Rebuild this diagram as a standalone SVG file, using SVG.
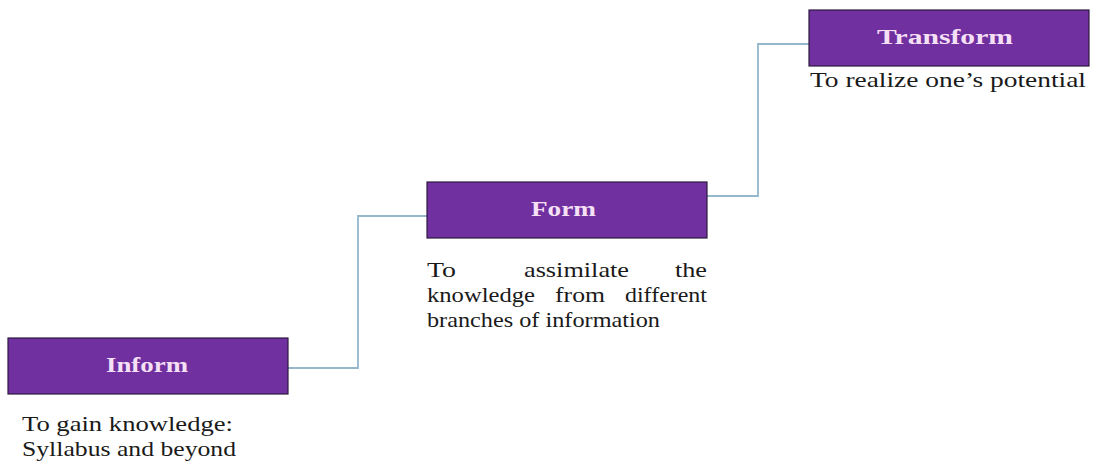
<svg xmlns="http://www.w3.org/2000/svg" width="1100" height="471" viewBox="0 0 1100 471">
<style>
.box{fill:#7030a0;stroke:#2e1a3f;stroke-width:1.2}
.title{font-family:"Liberation Serif","Times New Roman",serif;font-weight:bold;font-size:20px;fill:#f6e0f6;text-anchor:start}
.body{font-family:"Liberation Serif","Times New Roman",serif;font-size:21px;fill:#1a1a1a}
.conn{fill:none;stroke:#93b8cc;stroke-width:1.8}
</style>
<rect width="1100" height="471" fill="#ffffff"/>
<g id="connectors">
<polyline class="conn" points="288,368 358,368 358,216 427,216"/>
<polyline class="conn" points="706,196 758,196 758,44 809,44"/>
</g>
<g id="inform">
<rect class="box" x="8" y="338" width="280" height="56"/>
<text class="title" x="106" y="372" textLength="82" lengthAdjust="spacingAndGlyphs">Inform</text>
<text class="body" x="22" y="431" textLength="211" lengthAdjust="spacingAndGlyphs">To gain knowledge:</text>
<text class="body" x="22" y="456" textLength="214" lengthAdjust="spacingAndGlyphs">Syllabus and beyond</text>
</g>
<g id="form">
<rect class="box" x="427" y="182" width="280" height="56"/>
<text class="title" x="531" y="216" textLength="65" lengthAdjust="spacingAndGlyphs">Form</text>
<text class="body" x="427" y="277" textLength="29" lengthAdjust="spacingAndGlyphs">To</text>
<text class="body" x="524" y="277" textLength="105" lengthAdjust="spacingAndGlyphs">assimilate</text>
<text class="body" x="675" y="277" textLength="32" lengthAdjust="spacingAndGlyphs">the</text>
<text class="body" x="427" y="302" textLength="108" lengthAdjust="spacingAndGlyphs">knowledge</text>
<text class="body" x="555" y="302" textLength="50" lengthAdjust="spacingAndGlyphs">from</text>
<text class="body" x="625" y="302" textLength="82" lengthAdjust="spacingAndGlyphs">different</text>
<text class="body" x="427" y="327" textLength="233" lengthAdjust="spacingAndGlyphs">branches of information</text>
</g>
<g id="transform">
<rect class="box" x="809" y="10" width="280" height="56"/>
<text class="title" x="877" y="44" textLength="136" lengthAdjust="spacingAndGlyphs">Transform</text>
<text class="body" x="810" y="87" textLength="276" lengthAdjust="spacingAndGlyphs">To realize one’s potential</text>
</g>
</svg>
